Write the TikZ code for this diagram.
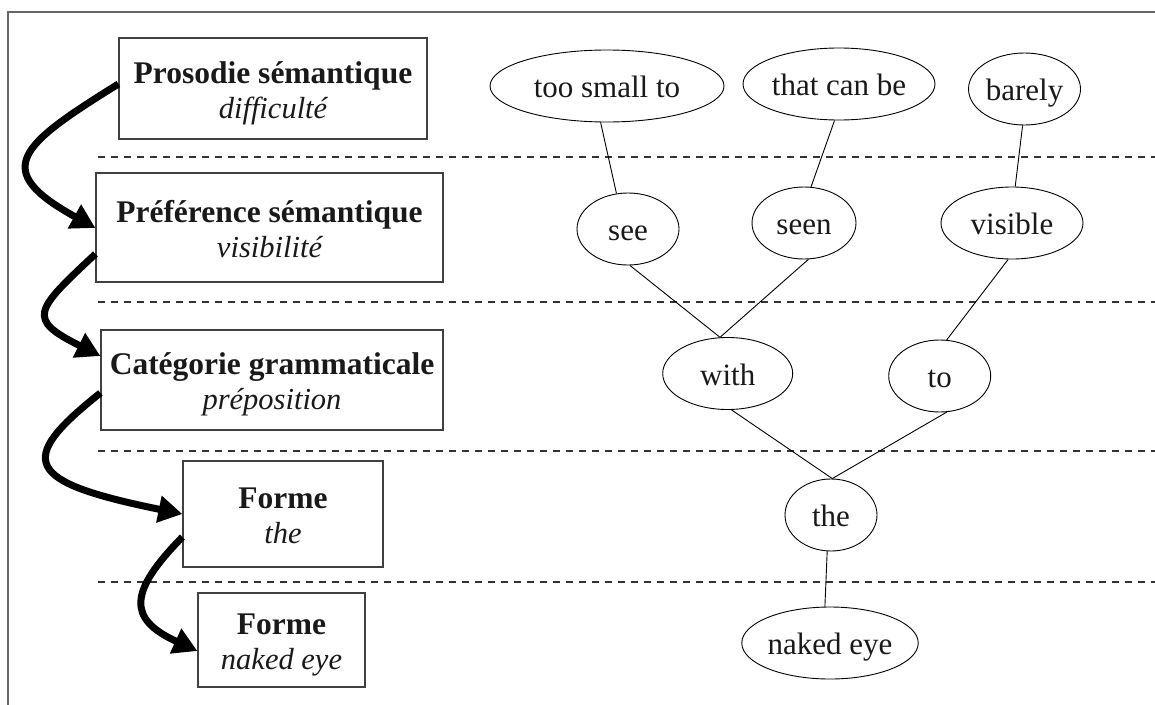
\documentclass[tikz,border=0pt]{standalone}
\usepackage{fontspec}
\setmainfont{Liberation Serif}
\usetikzlibrary{shapes.geometric,arrows.meta,calc}
\begin{document}
\begin{tikzpicture}[x=1pt,y=-1pt,
  every node/.style={font=\fontsize{31}{36}\selectfont, text=black!90},
  tag/.style={rectangle, draw=black!75, line width=1.2pt, inner sep=0pt},
  ttl/.style={anchor=base, font=\fontsize{31.5}{36}\selectfont\bfseries, inner sep=0pt},
  sub/.style={anchor=base, font=\fontsize{30.5}{36}\selectfont\itshape, inner sep=0pt},
  word/.style={ellipse, draw=black, line width=0.9pt, inner sep=0pt,
    minimum height=72pt, text height=23pt, text depth=0pt},
  edge/.style={draw=black, line width=0.9pt},
  flow/.style={draw=black, line width=7pt, -{Triangle[length=24pt,width=26pt]}},
  sep/.style={draw=black!80, line width=1.1pt, dash pattern=on 7pt off 6pt},
  frame/.style={draw=black!60, line width=1.4pt}
]
\useasboundingbox (0,0) rectangle (1155,704);
% frame (only top and left edges visible)
\draw[frame] (8,712) -- (8,12) -- (1163,12);
% level separators
\draw[sep] (98,157) -- (1155,157);
\draw[sep] (98,302) -- (1155,302);
\draw[sep] (98,451) -- (1155,451);
\draw[sep] (98,582) -- (1155,582);

% left boxes
\node[tag, minimum width=308pt, minimum height=101pt] (b1) at (273,88.5) {};
\node[ttl] (b1t) at (273,83) {Prosodie sémantique};
\node[sub] (b1s) at (273,118) {difficulté};

\node[tag, minimum width=347pt, minimum height=109pt] (b2) at (269.5,227.5) {};
\node[ttl] (b2t) at (269.5,222) {Préférence sémantique};
\node[sub] (b2s) at (269.5,257) {visibilité};

\node[tag, minimum width=342pt, minimum height=100pt] (b3) at (272,380) {};
\node[ttl] (b3t) at (272,374.5) {Catégorie grammaticale};
\node[sub] (b3s) at (272,409.5) {préposition};

\node[tag, minimum width=200pt, minimum height=106pt] (b4) at (283,514) {};
\node[ttl] (b4t) at (283,508.5) {Forme};
\node[sub] (b4s) at (283,543.5) {the};

\node[tag, minimum width=167pt, minimum height=94pt] (b5) at (281.5,640) {};
\node[ttl] (b5t) at (281.5,634.5) {Forme};
\node[sub] (b5s) at (281.5,669.5) {naked eye};

% curved arrows
\draw[flow] ($(b1.west)+(0,-4.5)$) .. controls +(-100,62) and +(-105,-58) .. ($(b2.west)+(0,0.5)$);
\draw[flow] ($(b2.west)+(0,26.5)$) .. controls +(-61,57) and +(-74,-37) .. ($(b3.west)+(0,-24)$);
\draw[flow] ($(b3.west)+(0,13)$) .. controls +(-86,68) and +(-157,-32) .. (b4.west);
\draw[flow] ($(b4.west)+(0,23)$) .. controls +(-54,55) and +(-70,-32) .. ($(b5.west)+(0,11)$);

% tree of ellipses
\node[word, minimum width=234pt] (too) at (607,86) {too small to};
\node[word, minimum width=192pt] (that) at (839,84) {that can be};
\node[word, minimum width=112pt] (barely) at (1024.5,89) {barely};
\node[word, minimum width=102pt] (see) at (628,229) {see};
\node[word, minimum width=104pt] (seen) at (804,223) {seen};
\node[word, minimum width=142pt] (visible) at (1012,223) {visible};
\node[word, minimum width=130pt] (with) at (727.7,373.5) {with};
\node[word, minimum width=102pt] (to) at (939.7,376) {to};
\node[word, minimum width=92pt] (the) at (831,515) {the};
\node[word, minimum width=166pt] (naked) at (830,643) {naked eye};

\draw[edge] (too.260) -- (see.108);
\draw[edge] (that.263) -- (seen.79);
\draw[edge] (barely.267) -- (visible.85);
\draw[edge] (see.273) -- (with.102);
\draw[edge] (seen.277) -- (with.102);
\draw[edge] (visible.264) -- (to.79);
\draw[edge] (with.276) -- (the.88);
\draw[edge] (to.281) -- (the.88);
\draw[edge] (the.264) -- (naked.98);
\end{tikzpicture}
\end{document}
